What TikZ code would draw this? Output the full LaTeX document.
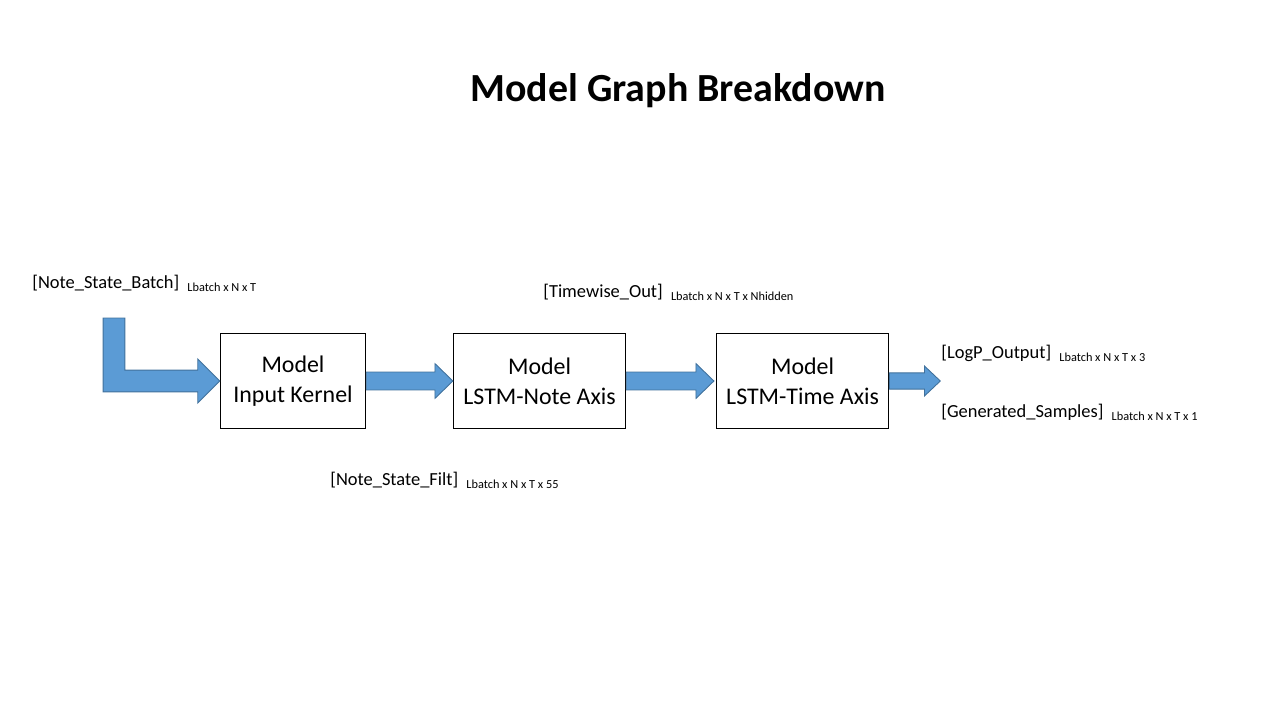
\documentclass[tikz,border=0pt]{standalone}
\usepackage{fontspec}
\setmainfont{Carlito}
\usepackage{xcolor}
\usetikzlibrary{calc,positioning}

\definecolor{arrowfill}{HTML}{5B9BD5}
\definecolor{arrowline}{HTML}{41719C}

% fat arrow: from, to, shaft half, head half, head length
\newcommand{\blockarrow}[5]{%
    \path[flow] let \p1=(#1), \p2=(#2) in
        (\x1,\y1+#3) -- (\x2-#5,\y1+#3) -- (\x2-#5,\y1+#4) -- (\x2,\y1)
        -- (\x2-#5,\y1-#4) -- (\x2-#5,\y1-#3) -- (\x1,\y1-#3) -- cycle;
}
\newcommand{\dims}[1]{\hspace{2.3pt}\raisebox{-2.2pt}{\fontsize{7}{8}\selectfont #1}}

\begin{document}
\begin{tikzpicture}[x=0.02cm,y=-0.02cm]
    \tikzset{
        box/.style={draw=black, line width=0.6pt, inner sep=0pt, align=center,
                    font={\fontsize{13.6}{17}\selectfont}, minimum height=54.4pt},
        flow/.style={fill=arrowfill, draw=arrowline, line width=0.5pt},
        lbl/.style={anchor=base west, inner sep=0pt, font={\fontsize{10.5}{12}\selectfont}},
    }
    \useasboundingbox (0,0) rectangle (1280,720);

    \node[font={\fontsize{22.7}{27}\selectfont\bfseries}] (title) at (678,91) {Model Graph Breakdown};

    \node[box, minimum width=82.8pt] (kern) at (293,381) {Model\\Input Kernel};
    \node[box, minimum width=98.1pt, right=49.3pt of kern] (note) {Model\\LSTM-Note Axis};
    \node[box, minimum width=98.1pt, right=51pt of note] (time) {Model\\LSTM-Time Axis};

    \coordinate (src) at (114,318);
    \coordinate (out) at ($(time.east)+(51,0)$);

    % input arrow, bent
    \path[flow] let \p1=(src), \p2=(kern.west) in
        (\x1-6.2pt,\y1) -- (\x1+6.2pt,\y1) -- (\x1+6.2pt,\y2+6.2pt) -- (\x2-12.5pt,\y2+6.2pt)
        -- (\x2-12.5pt,\y2+12.5pt) -- (\x2,\y2) -- (\x2-12.5pt,\y2-12.5pt)
        -- (\x2-12.5pt,\y2-6.2pt) -- (\x1-6.2pt,\y2-6.2pt) -- cycle;

    \blockarrow{kern.east}{note.west}{5.1pt}{9.9pt}{10.2pt}
    \blockarrow{note.east}{$(time.west)+(-2,0)$}{5.1pt}{9.9pt}{10.2pt}
    \blockarrow{time.east}{out}{4.6pt}{8.5pt}{9pt}

    \node[lbl] (batch) at (32,288) {[Note\_State\_Batch] \dims{Lbatch x N x T}};
    \node[lbl] (filt) at (330,485) {[Note\_State\_Filt] \dims{Lbatch x N x T x 55}};
    \node[lbl] (twout) at (543,297) {[Timewise\_Out] \dims{Lbatch x N x T x Nhidden}};
    \node[lbl] (logp) at (941,358) {[LogP\_Output] \dims{Lbatch x N x T x 3}};
    \node[lbl] (gen) at (941,417) {[Generated\_Samples] \dims{Lbatch x N x T x 1}};
\end{tikzpicture}
\end{document}
